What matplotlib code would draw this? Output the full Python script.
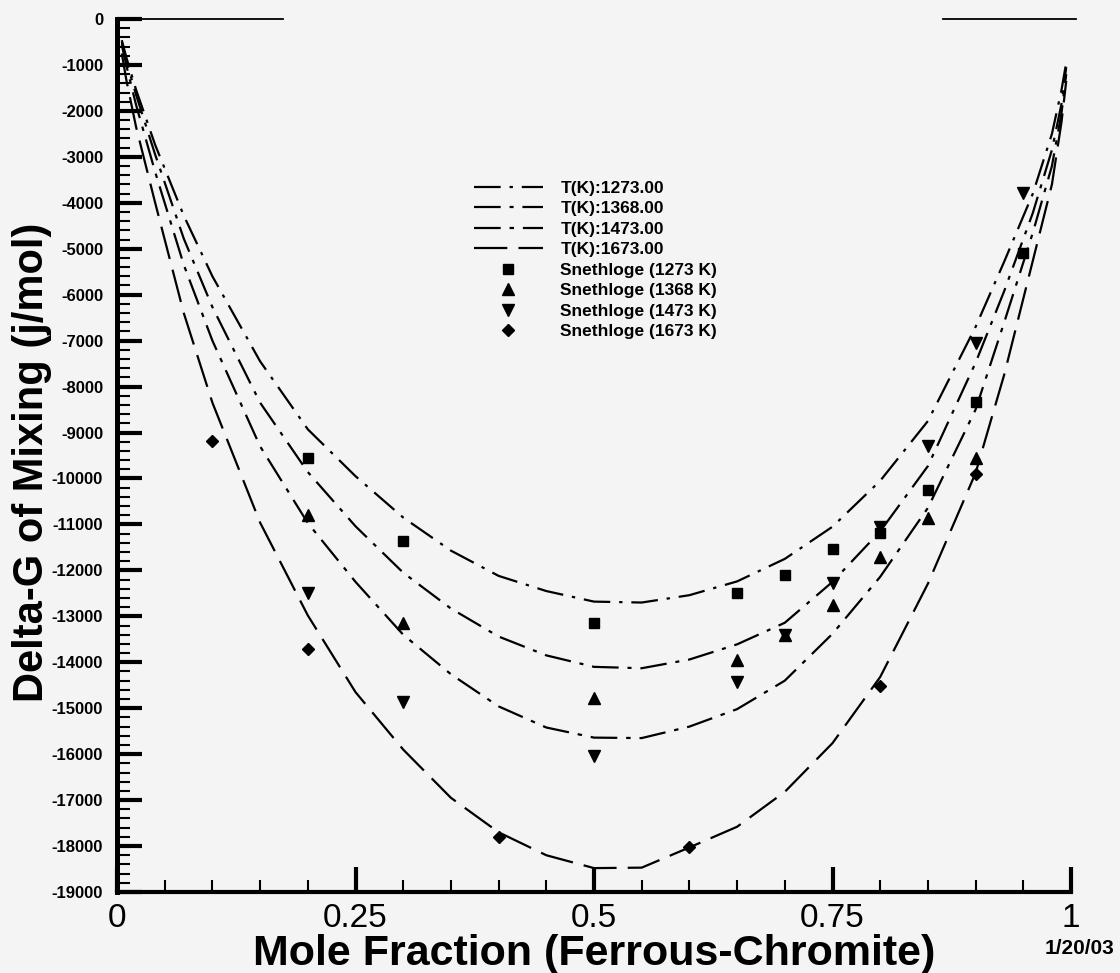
import matplotlib
matplotlib.use("Agg")
import matplotlib.pyplot as plt
from matplotlib.ticker import MultipleLocator

plt.rcParams['font.family'] = ['Liberation Sans', 'DejaVu Sans']
plt.rcParams['axes.unicode_minus'] = False

# model curves (j/mol)
x_fit = [0.005, 0.01, 0.02, 0.04, 0.07, 0.1, 0.15, 0.2, 0.25, 0.3, 0.35, 0.4, 0.45, 0.5,
         0.55, 0.6, 0.65, 0.7, 0.75, 0.8, 0.85, 0.9, 0.93, 0.96, 0.98, 0.99, 0.995]
g_1273 = [-460, -850, -1540, -2740, -4280, -5600, -7450, -8930, -9950, -10850, -11570, -12120, -12450, -12680,
          -12700, -12540, -12240, -11750, -11050, -10050, -8750, -6700, -5280, -3800, -2500, -1550, -950]
g_1368 = [-500, -930, -1650, -2950, -4780, -6270, -8350, -9860, -11040, -12050, -12830, -13440, -13850, -14100,
          -14130, -13940, -13610, -13140, -12250, -11150, -9730, -7480, -5920, -4220, -2850, -1850, -1050]
g_1473 = [-560, -1030, -1870, -3330, -5350, -7000, -9300, -10970, -12250, -13400, -14260, -14960, -15420, -15640,
          -15650, -15400, -15020, -14400, -13380, -12140, -10640, -8500, -6600, -4650, -3200, -2050, -1200]
g_1673 = [-750, -1350, -2350, -4000, -6400, -8350, -10960, -12980, -14650, -15900, -16950, -17700, -18200, -18480,
          -18470, -18030, -17580, -16820, -15760, -14320, -12290, -9880, -7740, -5260, -3600, -2250, -1350]

# Snethloge data points
x_s1273 = [0.2, 0.3, 0.5, 0.65, 0.7, 0.75, 0.8, 0.85, 0.9, 0.95]
y_s1273 = [-9550, -11360, -13145, -12490, -12100, -11530, -11180, -10250, -8340, -5090]
x_s1368 = [0.2, 0.3, 0.5, 0.65, 0.7, 0.75, 0.8, 0.85, 0.9]
y_s1368 = [-10790, -13145, -14780, -13950, -13400, -12750, -11710, -10860, -9550]
x_s1473 = [0.2, 0.3, 0.5, 0.65, 0.7, 0.75, 0.8, 0.85, 0.9, 0.95]
y_s1473 = [-12490, -14860, -16040, -14430, -13400, -12270, -11060, -9290, -7050, -3790]
x_s1673 = [0.1, 0.2, 0.4, 0.6, 0.8, 0.9]
y_s1673 = [-9180, -13710, -17800, -18020, -14520, -9900]

x_ticks = [0, 0.25, 0.5, 0.75, 1]
x_tick_labels = ['0', '0.25', '0.5', '0.75', '1']
y_ticks = list(range(-19000, 1, 1000))
y_tick_labels = [str(v) for v in y_ticks]

bg = '#f4f4f4'
fig = plt.figure(figsize=(11.2, 9.73), dpi=100, facecolor=bg)
ax = fig.add_axes([117 / 1120, 81 / 973, 954 / 1120, 873 / 973], facecolor=bg)

lw = 1.6
ax.plot(x_fit, g_1273, color='k', lw=lw, dashes=(12, 4, 1.5, 4), label='T(K):1273.00')
ax.plot(x_fit, g_1368, color='k', lw=lw, dashes=(12, 4, 1.8, 4), label='T(K):1368.00')
ax.plot(x_fit, g_1473, color='k', lw=lw, dashes=(12, 4, 2.0, 4), label='T(K):1473.00')
ax.plot(x_fit, g_1673, color='k', lw=lw, dashes=(15, 5), label='T(K):1673.00')

ax.plot(x_s1273, y_s1273, 's', color='k', ms=7.2, ls='none', label='Snethloge (1273 K)')
ax.plot(x_s1368, y_s1368, '^', color='k', ms=8, ls='none', label='Snethloge (1368 K)')
ax.plot(x_s1473, y_s1473, 'v', color='k', ms=8, ls='none', label='Snethloge (1473 K)')
ax.plot(x_s1673, y_s1673, 'D', color='k', ms=6.6, ls='none', label='Snethloge (1673 K)')

# remnants of the top frame
ax.axhline(0, xmin=0, xmax=0.174, color='k', lw=1.3, clip_on=False)
ax.axhline(0, xmin=0.866, xmax=1.005, color='k', lw=1.3, clip_on=False)

ax.set_xlim(0, 1)
ax.set_ylim(-19000, 0)

for side in ['top', 'right']:
    ax.spines[side].set_visible(False)
ax.spines['left'].set_linewidth(3.6)
ax.spines['bottom'].set_linewidth(3)

ax.set_xticks(x_ticks)
ax.set_xticklabels(x_tick_labels)
ax.set_yticks(y_ticks)
ax.set_yticklabels(y_tick_labels)
ax.xaxis.set_minor_locator(MultipleLocator(0.05))
ax.yaxis.set_minor_locator(MultipleLocator(200))
ax.tick_params(which='major', direction='in', length=18, width=3)
ax.tick_params(which='minor', direction='in', length=9, width=1.5)
ax.tick_params(axis='x', which='major', labelsize=24, pad=8)
ax.tick_params(axis='y', which='major', labelsize=12, pad=10)
for lab in ax.get_yticklabels():
    lab.set_fontweight('bold')

ax.set_xlabel('Mole Fraction (Ferrous-Chromite)', fontsize=31, fontweight='bold', labelpad=0)
ax.set_ylabel('Delta-G of Mixing (j/mol)', fontsize=30, fontweight='bold')
ax.yaxis.set_label_coords(-0.068, 0.4926)

leg = ax.legend(loc='upper left', bbox_to_anchor=(0.3646, 0.825), frameon=False,
                prop={'weight': 'bold', 'size': 12.5}, handlelength=4.0,
                handletextpad=1.0, labelspacing=0.31, borderpad=0, numpoints=1)

fig.text(1080 / 1120, 1 - 948 / 973, '1/20/03', ha='center', va='center',
         fontsize=15, fontweight='bold')

fig.savefig('out.png', dpi=100, facecolor=bg)
